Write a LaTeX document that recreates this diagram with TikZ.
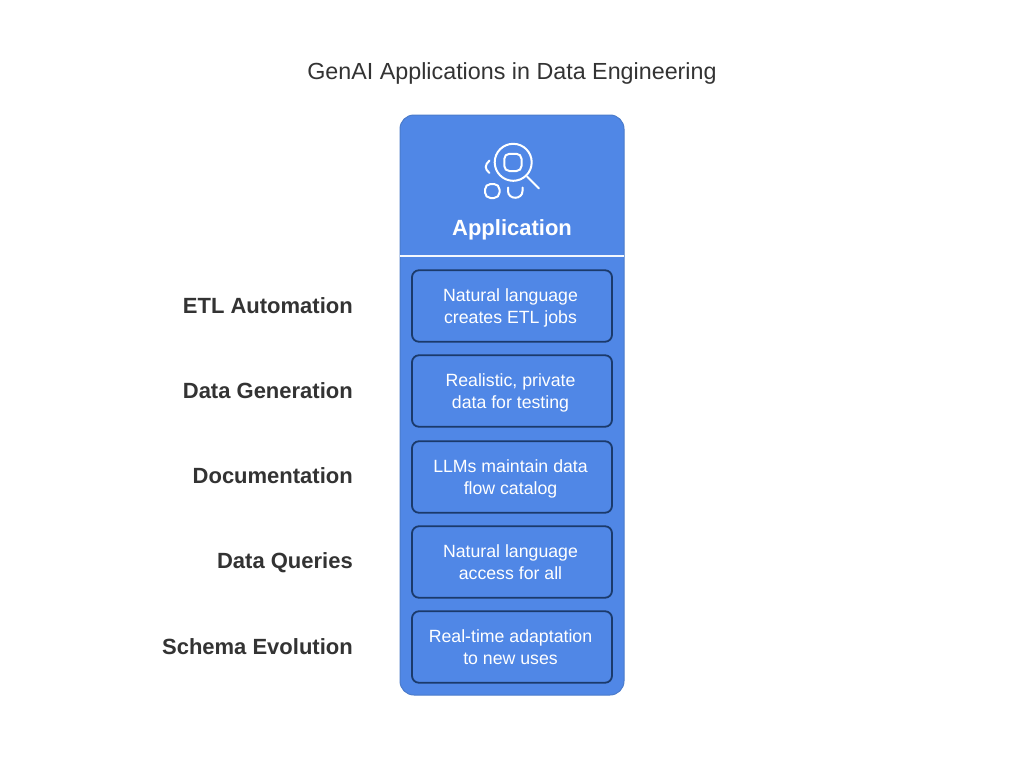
\documentclass[tikz,border=0pt]{standalone}
\usepackage{fontspec}
\setmainfont{Liberation Sans}
\definecolor{panelblue}{HTML}{5087E6}
\definecolor{paneledge}{HTML}{4A7BCB}
\definecolor{inneredge}{HTML}{1B3A6B}
\definecolor{labelgrey}{HTML}{333333}
\definecolor{divider}{HTML}{F4F8FE}
\tikzset{
  innerbox/.style={draw=inneredge,line width=1.8pt,fill=panelblue,rounded corners=7pt,minimum width=200pt,minimum height=71.5pt,inner sep=0pt},
  boxtext/.style={inner sep=0pt,align=center,text=white,font=\fontsize{17.7}{22}\selectfont},
  rowlabel/.style={anchor=base east,text=labelgrey,inner sep=0pt,font=\bfseries\fontsize{22}{26}\selectfont},
  iconline/.style={draw=white,line width=2pt,line cap=round,fill=none}
}
\begin{document}
\begin{tikzpicture}[x=1pt,y=-1pt]
\useasboundingbox (0,0) rectangle (1024,768);
\fill[white] (0,0) rectangle (1024,768);
\node[anchor=base,text=labelgrey,inner sep=0pt,font=\fontsize{23.3}{26}\selectfont] (title) at (512,79) {GenAI Applications in Data Engineering};
\node[draw=paneledge,line width=1pt,fill=panelblue,rounded corners=14pt,minimum width=224pt,minimum height=580pt,inner sep=0pt] (panel) at (512,405) {};
\coordinate (divl) at (400,256);
\coordinate (divr) at (624,256);
\draw[divider,line width=2pt] (divl) -- (divr);
\node[anchor=base,text=white,inner sep=0pt,font=\bfseries\fontsize{22}{26}\selectfont] (head) at (512,235) {Application};
% icon
\draw[iconline] (513.2,162.3) circle (18.5);
\draw[iconline,rounded corners=5pt] (504.3,153.8) rectangle (521.5,171);
\draw[iconline] (527,176.5) -- (539,188.5);
\draw[iconline] (489.5,160.5) .. controls (484.5,165) and (484.5,169) .. (489.5,173);
\draw[iconline,rounded corners=5.5pt] (485,184) rectangle (499.5,198);
\draw[iconline] (508,187.5) -- (508,191) .. controls (508,200) and (522.5,200) .. (522.5,191) -- (522.5,187.5);
% boxes
\node[innerbox] (b1) at (512,306) {};
\node[innerbox] (b2) at (512,391) {};
\node[innerbox] (b3) at (512,477) {};
\node[innerbox] (b4) at (512,562) {};
\node[innerbox] (b5) at (512,647) {};
\node[boxtext] (t1) at (510.5,308) {Natural language\\creates ETL jobs};
\node[boxtext] (t2) at (510.5,392.5) {Realistic, private\\data for testing};
\node[boxtext] (t3) at (510.5,479) {LLMs maintain data\\flow catalog};
\node[boxtext] (t4) at (510.5,562) {Natural language\\access for all};
\node[boxtext] (t5) at (510.5,647.5) {Real-time adaptation\\to new uses};
% labels
\node[rowlabel] (l1) at (353,313) {ETL Automation};
\node[rowlabel] (l2) at (353,398) {Data Generation};
\node[rowlabel] (l3) at (353,483) {Documentation};
\node[rowlabel] (l4) at (353,568.5) {Data Queries};
\node[rowlabel] (l5) at (353,654) {Schema Evolution};
\end{tikzpicture}
\end{document}
